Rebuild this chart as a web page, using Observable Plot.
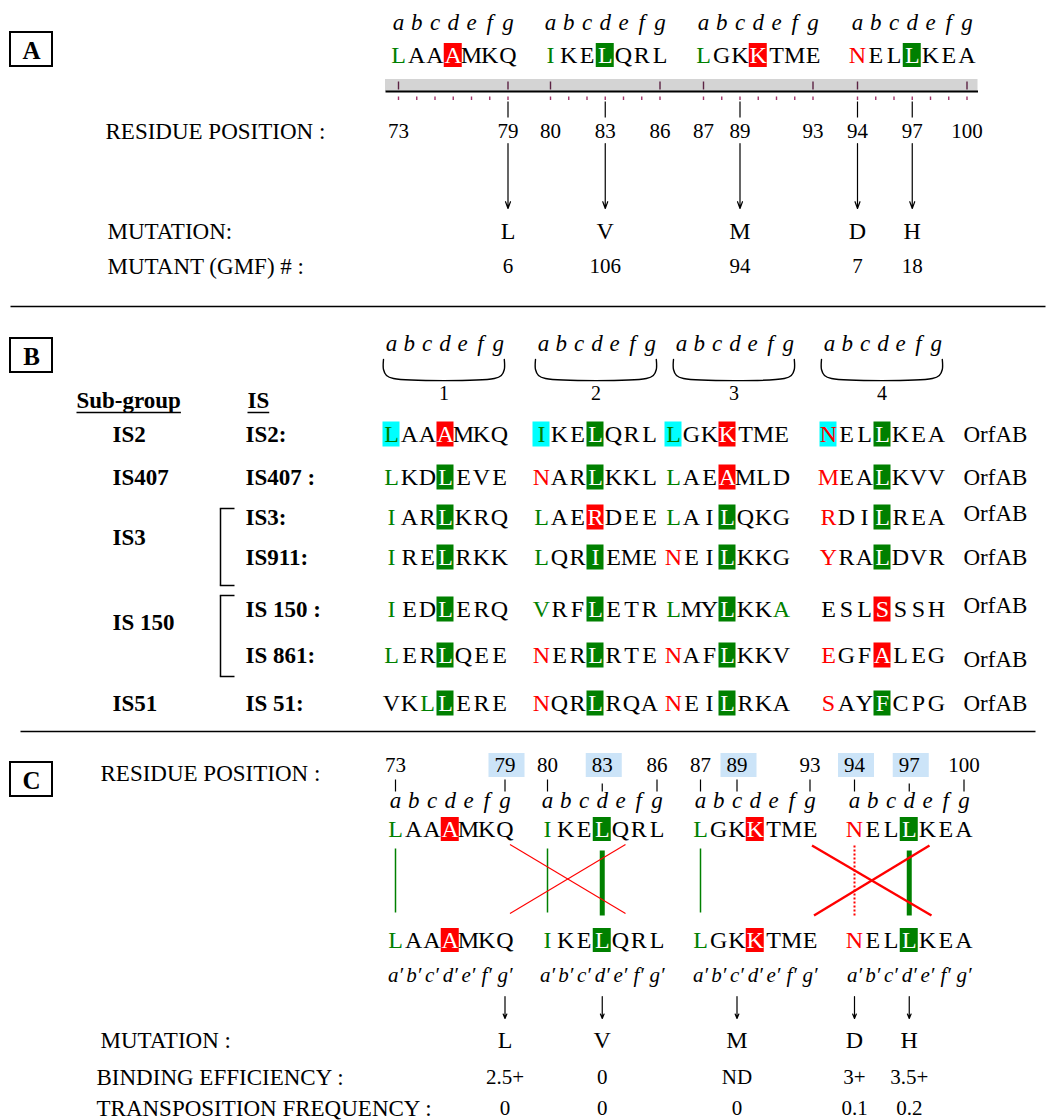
<!DOCTYPE html>
<html>
<head>
<meta charset="utf-8">
<script src="https://cdn.jsdelivr.net/npm/d3@7"></script>
<script src="https://cdn.jsdelivr.net/npm/@observablehq/plot@0.6"></script>
<style>
  html, body { margin: 0; padding: 0; background: #fff; }
  #chart svg { display: block; }
</style>
</head>
<body>
<div id="chart"></div>
<script>
// ================= DATA =================
const heptadLetters = ["a", "b", "c", "d", "e", "f", "g"];
const firstResidue = 73;
const wildTypeHeptads = ["LAAAMKQ", "IKELQRL", "LGKKTME", "NELLKEA"];
// residue classes: "." plain, g green letter, r red letter, G leucine box (green), R non-leucine box (red), c/n cyan-highlighted a-position (green / red letter)
const wildTypeClasses = ["g..R...", "g..G...", "g..R...", "r..G..."];
const residueNumbers = [73, 79, 80, 83, 86, 87, 89, 93, 94, 97, 100];
const mutatedResidues = [79, 83, 89, 94, 97];
const mutations = ["L", "V", "M", "D", "H"];
const mutantGMF = ["6", "106", "94", "7", "18"];
const bindingEfficiency = ["2.5+", "0", "ND", "3+", "3.5+"];
const transpositionFrequency = ["0", "0", "0", "0.1", "0.2"];

const heptadNumbers = ["1", "2", "3", "4"];
const subGroupLabels = ["IS2", "IS407", "IS3", "IS 150", "IS51"];
const isLabels = ["IS2:", "IS407 :", "IS3:", "IS911:", "IS 150 :", "IS 861:", "IS 51:"];
const isSequences = [
  ["LAAAMKQ", "IKELQRL", "LGKKTME", "NELLKEA"],
  ["LKDLEVE", "NARLKKL", "LAEAMLD", "MEALKVV"],
  ["IARLKRQ", "LAERDEE", "LAILQKG", "RDILREA"],
  ["IRELRKK", "LQRIEME", "NEILKKG", "YRALDVR"],
  ["IEDLERQ", "VRFLETR", "LMYLKKA", "ESLSSSH"],
  ["LERLQEE", "NERLRTE", "NAFLKKV", "EGFALEG"],
  ["VKLLERE", "NQRLRQA", "NEILRKA", "SAYFCPG"]
];
const isClasses = [
  ["c..R...", "c..G...", "c..R...", "n..G..."],
  ["g..G...", "r..G...", "g..R...", "r..G..."],
  ["g..G...", "g..R...", "g..G...", "r..G..."],
  ["g..G...", "g..G...", "r..G...", "r..G..."],
  ["g..G...", "g..G...", "g..G..g", "...R..."],
  ["g..G...", "r..G...", "r..G...", "r..R..."],
  ["..gG...", "r..G...", "r..G...", "r..G..."]
];
const isProducts = ["OrfAB", "OrfAB", "OrfAB", "OrfAB", "OrfAB", "OrfAB", "OrfAB"];

// Panel C interhelical contacts: [residue in helix, residue in helix', kind]
const contacts = [
  [73, 73, "a-a'"], [80, 80, "a-a'"], [87, 87, "a-a'"],
  [83, 83, "d-d'"], [97, 97, "d-d'"],
  [79, 84, "g-e'"], [84, 79, "g-e'"],
  [93, 98, "g-e' strong"], [98, 93, "g-e' strong"],
  [94, 94, "a-a' polar"]
];

// ================= STYLE / LAYOUT =================
const FONT = "'Liberation Serif','Times New Roman',Times,serif";
const GREEN = "#008000", RED = "#ff0000", CYAN = "#00ffff", PALEBLUE = "#cce4f8";
const boxFill = {G: GREEN, R: RED, c: CYAN, n: CYAN};
const letterFill = {".": "black", g: GREEN, r: RED, G: "white", R: "white", c: GREEN, n: RED};
const contactStyle = {
  "a-a'": {stroke: GREEN, w: 1.5, dx1: 0, dx2: 0, top: 848, bot: 912},
  "d-d'": {stroke: GREEN, w: 5, dx1: 0, dx2: 0, top: 850, bot: 915},
  "g-e'": {stroke: RED, w: 1.1, dx1: 5, dx2: 5, top: 844, bot: 913},
  "g-e' strong": {stroke: RED, w: 2.4, dx1: 2, dx2: 4, top: 845, bot: 915},
  "a-a' polar": {stroke: RED, w: 2, dx1: 0, dx2: 0, top: 845, bot: 917}
};

const SEQ_SIZE = 24, LABEL_SIZE = 23, NUM_SIZE = 21, HEP_SIZE = 23;
const pitchA = 18.25, startsA = [398, 550, 703, 857];
const xA = p => { const k = p - firstResidue; const h = Math.min(3, Math.floor(k / 7)); return startsA[h] + (k - 7 * h) * pitchA; };
const xC = p => xA(p) - 3;
const pitchB = 18, startsB = [391, 541, 673, 828], labelStartsB = [391, 543, 681, 829], labelPitchB = 17.8;
const rowsB = [434, 477, 517, 557, 609, 655, 703];
const productDy = [0, 0, -4, 0, -4, 4, 0];
const subGroupY = [434, 477, 537, 622, 703];
const brackets = [[508, 585], [595, 676]];

const ctx = document.createElement("canvas").getContext("2d");
const textW = (s, font) => { ctx.font = font; return ctx.measureText(s).width; };

// helpers
function residues(heptads, classes, xAt, y, bw, bh) {
  const out = [];
  heptads.forEach((hp, h) => [...hp].forEach((ch, i) => out.push({x: xAt(h, i), y, ch, cls: classes[h][i], bw, bh})));
  return out;
}
function residueMarks(data) {
  const boxed = data.filter(d => boxFill[d.cls]);
  return [
    Plot.rect(boxed, {x1: d => d.x - d.bw / 2, x2: d => d.x + d.bw / 2, y1: d => d.y - d.bh / 2, y2: d => d.y + d.bh / 2, fill: d => boxFill[d.cls]}),
    Plot.text(data, {x: "x", y: "y", text: "ch", fill: d => letterFill[d.cls], fontSize: SEQ_SIZE, lineAnchor: "middle", fontFamily: FONT})
  ];
}
function heptadLabelData(xAt, y, prime) {
  const out = [];
  for (let h = 0; h < 4; h++) heptadLetters.forEach((l, i) => out.push({x: xAt(h, i), y, t: prime ? l + "\u2032" : l}));
  return out;
}
// IS label with italic number part
function isLabelSegments(label, x0, y, size) {
  const m = label.match(/^(IS\s*)(\d+)(.*)$/);
  const segs = [[m[1], false], [m[2], true], [m[3], false]];
  let cur = x0; const out = [];
  for (const [s, it] of segs) {
    if (!s) continue;
    const font = `${it ? "italic " : ""}bold ${size}px ${FONT}`;
    const lead = s.match(/^\s*/)[0], core = s.trim(), trail = s.slice(lead.length + core.length);
    cur += textW(lead, font);
    if (core) out.push({x: cur, y, t: core, italic: it});
    cur += textW(core, font) + textW(trail, font);
  }
  return out;
}

// ---------- Panel A data ----------
const aHeptad = heptadLabelData((h, i) => xA(firstResidue + 7 * h + i), 22, false);
const aSeq = residues(wildTypeHeptads, wildTypeClasses, (h, i) => xA(firstResidue + 7 * h + i), 55, 18, 24);
const allResidues = d3.range(firstResidue, firstResidue + 28);
const heptadBounds = d3.range(4).flatMap(h => [firstResidue + 7 * h, firstResidue + 7 * h + 6]);

// ---------- Panel B data ----------
const bHeptad = heptadLabelData((h, i) => labelStartsB[h] + i * labelPitchB, 343, false);
const braces = labelStartsB.flatMap((s, h) => {
  const a = s - 8, b = s + 6 * labelPitchB + 6;
  return [[a, 359], [a, 369], [a + 3, 375], [a + 10, 378], [b - 10, 378], [b - 3, 375], [b, 369], [b, 359]].map(([x, y]) => ({x, y, h}));
});
const braceCenters = labelStartsB.map(s => (s - 8 + s + 6 * labelPitchB + 6) / 2);
const bSeq = isSequences.flatMap((hs, r) => residues(hs, isClasses[r], (h, i) => startsB[h] + i * pitchB, rowsB[r], 17, 25));
const subSegs = subGroupLabels.flatMap((l, i) => isLabelSegments(l, 112, subGroupY[i], LABEL_SIZE));
const isSegs = isLabels.flatMap((l, i) => isLabelSegments(l, 245, rowsB[i], LABEL_SIZE));

// ---------- Panel C data ----------
const cHeptad = heptadLabelData((h, i) => xC(firstResidue + 7 * h + i), 800, false);
const cPrime = heptadLabelData((h, i) => xC(firstResidue + 7 * h + i), 975, true);
const cSeq1 = residues(wildTypeHeptads, wildTypeClasses, (h, i) => xC(firstResidue + 7 * h + i), 829, 18, 24);
const cSeq2 = residues(wildTypeHeptads, wildTypeClasses, (h, i) => xC(firstResidue + 7 * h + i), 940, 18, 24);
const contactLinks = contacts.map(([p, q, k]) => { const s = contactStyle[k]; return {x1: xC(p) + s.dx1, x2: xC(q) + s.dx2, y1: s.top, y2: s.bot, ...s, k}; });
const solidContacts = contactLinks.filter(d => d.k !== "a-a' polar");
const dottedContacts = contactLinks.filter(d => d.k === "a-a' polar");

const boxLetter = (ch, y1) => [
  Plot.rect([ch], {x1: 10, x2: 52, y1: y1, y2: y1 + 34, fill: "white", stroke: "black", strokeWidth: 2}),
  Plot.text([ch], {x: 31, y: y1 + 18, text: d => d, fontSize: 25, fontWeight: "bold", lineAnchor: "middle", fontFamily: FONT})
];
const label = (t, x, y, size = LABEL_SIZE) => Plot.text([t], {x, y, text: d => d, textAnchor: "start", lineAnchor: "middle", fontSize: size, fontFamily: FONT});
const rowValues = (vals, xf, y, size = NUM_SIZE) => Plot.text(vals.map((v, i) => ({v, x: xf(mutatedResidues[i])})), {x: "x", y, text: "v", fontSize: size, lineAnchor: "middle", fontFamily: FONT});

const chart = Plot.plot({
  width: 1048, height: 1120, margin: 0,
  x: {domain: [0, 1048], range: [0, 1048], axis: null},
  y: {domain: [0, 1120], range: [0, 1120], axis: null},
  color: {type: "identity"},
  style: {fontFamily: FONT, background: "white", color: "black", overflow: "visible"},
  marks: [
    // ===== Panel A =====
    ...boxLetter("A", 32),
    Plot.text(aHeptad, {x: "x", y: "y", text: "t", fontStyle: "italic", fontSize: HEP_SIZE, lineAnchor: "middle", fontFamily: FONT}),
    ...residueMarks(aSeq),
    Plot.rect([0], {x1: xA(firstResidue) - 13, x2: xA(100) + 11, y1: 79, y2: 91, fill: "#d4d4d4"}),
    Plot.link([0], {x1: xA(firstResidue) - 13, x2: xA(100) + 11, y1: 91, y2: 91, stroke: "black", strokeWidth: 2.2}),
    Plot.link(heptadBounds, {x1: xA, x2: xA, y1: 81, y2: 89, stroke: "#5c2344", strokeWidth: 1.4}),
    Plot.link(allResidues, {x1: xA, x2: xA, y1: 96, y2: 99.5, stroke: "#a0356a", strokeWidth: 1.4}),
    Plot.link(mutatedResidues, {x1: xA, x2: xA, y1: 101, y2: 117, stroke: "black", strokeWidth: 1.2}),
    label("RESIDUE POSITION :", 105, 131),
    Plot.text(residueNumbers, {x: xA, y: 131, text: d => String(d), fontStyle: d => mutatedResidues.includes(d) ? "italic" : "normal", fontSize: NUM_SIZE, lineAnchor: "middle", fontFamily: FONT}),
    Plot.arrow(mutatedResidues, {x1: xA, x2: xA, y1: 143, y2: 208, stroke: "black", strokeWidth: 1.2, headLength: 9, headAngle: 40}),
    label("MUTATION:", 107, 231),
    rowValues(mutations, xA, 231, SEQ_SIZE),
    label("MUTANT (GMF) # :", 107, 266),
    rowValues(mutantGMF, xA, 266),
    Plot.link([0], {x1: 10, x2: 1045, y1: 306, y2: 306, stroke: "black", strokeWidth: 1.5}),

    // ===== Panel B =====
    ...boxLetter("B", 338),
    Plot.text(bHeptad, {x: "x", y: "y", text: "t", fontStyle: "italic", fontSize: HEP_SIZE, lineAnchor: "middle", fontFamily: FONT}),
    Plot.line(braces, {x: "x", y: "y", z: "h", curve: "catmull-rom", stroke: "black", strokeWidth: 1.4}),
    Plot.text(heptadNumbers, {x: (d, i) => braceCenters[i], y: 393, text: d => d, fontSize: 20, lineAnchor: "middle", fontFamily: FONT}),
    Plot.text(["Sub-group", "IS"], {x: (d, i) => [76, 247][i], y: 400, text: d => d, textAnchor: "start", fontWeight: "bold", fontSize: LABEL_SIZE, lineAnchor: "middle", fontFamily: FONT}),
    Plot.link(["Sub-group", "IS"], {x1: (d, i) => [76, 247][i], x2: (d, i) => [76, 247][i] + textW(d, `bold ${LABEL_SIZE}px ${FONT}`), y1: 412, y2: 412, stroke: "black", strokeWidth: 1.5}),
    Plot.text(subSegs, {x: "x", y: "y", text: "t", textAnchor: "start", fontWeight: "bold", fontStyle: d => d.italic ? "italic" : "normal", fontSize: LABEL_SIZE, lineAnchor: "middle", fontFamily: FONT}),
    Plot.text(isSegs, {x: "x", y: "y", text: "t", textAnchor: "start", fontWeight: "bold", fontStyle: d => d.italic ? "italic" : "normal", fontSize: LABEL_SIZE, lineAnchor: "middle", fontFamily: FONT}),
    Plot.link(brackets, {x1: 220, x2: 220, y1: d => d[0], y2: d => d[1], stroke: "black", strokeWidth: 1.5}),
    Plot.link(brackets.flatMap(d => d), {x1: 219.3, x2: 234, y1: d => d, y2: d => d, stroke: "black", strokeWidth: 1.5}),
    ...residueMarks(bSeq),
    Plot.text(isProducts, {x: 963, y: (d, i) => rowsB[i] + productDy[i], text: d => d, textAnchor: "start", fontSize: LABEL_SIZE, lineAnchor: "middle", fontFamily: FONT}),
    Plot.link([0], {x1: 20, x2: 1035, y1: 731, y2: 731, stroke: "black", strokeWidth: 1.5}),

    // ===== Panel C =====
    ...boxLetter("C", 762),
    label("RESIDUE POSITION :", 100, 773),
    Plot.rect(mutatedResidues, {x1: d => xC(d) - 16, x2: d => xC(d) + 20, y1: 753, y2: 777, fill: PALEBLUE}),
    Plot.text(residueNumbers, {x: xC, y: 765, text: d => String(d), fontStyle: d => mutatedResidues.includes(d) ? "italic" : "normal", fontSize: NUM_SIZE, lineAnchor: "middle", fontFamily: FONT}),
    Plot.link(residueNumbers, {x1: xC, x2: xC, y1: d => mutatedResidues.includes(d) && (d - firstResidue) % 7 === 3 ? 783 : 779, y2: 791, stroke: "black", strokeWidth: 1.2}),
    Plot.text(cHeptad, {x: "x", y: "y", text: "t", fontStyle: "italic", fontSize: HEP_SIZE, lineAnchor: "middle", fontFamily: FONT}),
    ...residueMarks(cSeq1),
    Plot.link(solidContacts, {x1: "x1", x2: "x2", y1: "y1", y2: "y2", stroke: "stroke", strokeWidth: "w"}),
    Plot.link(dottedContacts, {x1: "x1", x2: "x2", y1: "y1", y2: "y2", stroke: "stroke", strokeWidth: "w", strokeDasharray: "2,2"}),
    ...residueMarks(cSeq2),
    Plot.text(cPrime, {x: "x", y: "y", text: "t", fontStyle: "italic", fontSize: 21, lineAnchor: "middle", fontFamily: FONT}),
    Plot.arrow(mutatedResidues, {x1: xC, x2: xC, y1: 996, y2: 1018, stroke: "black", strokeWidth: 1.2, headLength: 6, headAngle: 45}),
    label("MUTATION :", 100, 1040),
    rowValues(mutations, xC, 1040, SEQ_SIZE),
    label("BINDING EFFICIENCY :", 96, 1077),
    rowValues(bindingEfficiency, xC, 1077),
    label("TRANSPOSITION FREQUENCY :", 96, 1108),
    rowValues(transpositionFrequency, xC, 1108)
  ]
});
document.getElementById("chart").appendChild(chart);
</script>
</body>
</html>
